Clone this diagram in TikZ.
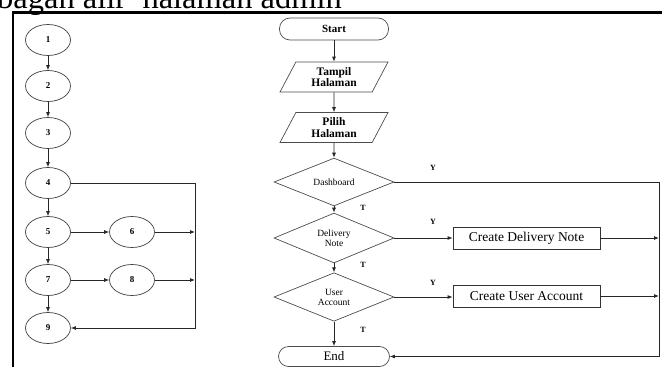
\documentclass[tikz,border=0pt]{standalone}
\usepackage{fontspec}
\setmainfont{Liberation Serif}
\usetikzlibrary{shapes.geometric,arrows.meta}
\begin{document}
\begin{tikzpicture}[x=1pt,y=-1pt,
  line/.style={line width=0.8pt,draw=black!85},
  arr/.style={line,-{Latex[length=5pt,width=4pt]}},
  fgnode/.style={ellipse,draw=black!75,line width=0.7pt,minimum width=45pt,minimum height=31pt,inner sep=0pt,font=\fontsize{9}{10}\selectfont\bfseries},
  term/.style={rectangle,draw=black!70,line width=0.7pt,minimum width=109pt,minimum height=22pt,rounded corners=10.5pt,inner sep=0pt},
  io/.style={trapezium,trapezium left angle=51,trapezium right angle=129,trapezium stretches body,draw=black!70,line width=0.7pt,minimum width=108pt,minimum height=30pt,inner sep=0pt,align=center,font=\fontsize{11.5}{11.5}\selectfont\bfseries},
  decide/.style={diamond,draw=black!70,line width=0.7pt,minimum width=120pt,minimum height=40pt,inner sep=0pt,align=center,font=\fontsize{9.5}{10}\selectfont},
  proc/.style={rectangle,draw=black!80,line width=0.8pt,minimum width=147pt,minimum height=22pt,inner sep=0pt,font=\fontsize{13.5}{14}\selectfont},
  lbl/.style={font=\fontsize{8}{9}\selectfont\bfseries,inner sep=0pt}
]
\useasboundingbox (0,0) rectangle (662,367);

% caption line above the frame, partly cut off by the page edge
\node[anchor=base west,inner sep=0pt,font=\fontsize{32.5}{32.5}\selectfont] (cap) at (-3,8.5) {bagan alir\ \ halaman admin};

% frame
\draw[line width=2.6pt,black] (13,367) -- (13,12.5) -- (662,12.5);

% ---- flow graph ----
\node[fgnode] (n1) at (48,40) {1};
\node[fgnode] (n2) at (48,86) {2};
\node[fgnode] (n3) at (48,133) {3};
\node[fgnode] (n4) at (48,183) {4};
\node[fgnode] (n5) at (48,232) {5};
\node[fgnode] (n6) at (132,232) {6};
\node[fgnode] (n7) at (48,280) {7};
\node[fgnode] (n8) at (132,280) {8};
\node[fgnode] (n9) at (48,328) {9};
\coordinate (jtop) at (195,183);
\coordinate (j6) at (195,232);
\coordinate (j8) at (195,280);
\coordinate (jbot) at (195,328);

\draw[arr] (n1) -- (n2);
\draw[arr] (n2) -- (n3);
\draw[arr] (n3) -- (n4);
\draw[arr] (n4) -- (n5);
\draw[arr] (n5) -- (n7);
\draw[arr] (n7) -- (n9);
\draw[arr] (n5) -- (n6);
\draw[arr] (n7) -- (n8);
\draw[arr] (n6) -- (j6);
\draw[arr] (n8) -- (j8);
\draw[arr] (n4.east) -- (jtop) -- (jbot) -- (n9.east);

% ---- flowchart ----
\node[term,font=\fontsize{11}{11}\selectfont\bfseries] (start) at (334,29) {Start};
\node[io] (tampil) at (334,77) {Tampil\\Halaman};
\node[io] (pilih) at (334,127.5) {Pilih\\Halaman};
\node[decide] (dash) at (334,182) {Dashboard};
\node[decide] (deliv) at (334,238) {Delivery\\Note};
\node[decide] (user) at (334,297) {User\\Account};
\node[term,minimum width=111pt,minimum height=20pt,rounded corners=10pt,font=\fontsize{13}{13}\selectfont] (end) at (334,356.5) {End};
\node[proc] (cdn) at (526.5,238) {Create Delivery Note};
\node[proc] (cua) at (526.5,296) {Create User Account};
\coordinate (rtop) at (659,182);
\coordinate (rdn) at (659,238);
\coordinate (rua) at (659,296);
\coordinate (rbot) at (659,356.5);

\draw[arr] (start) -- (tampil);
\draw[arr] (tampil) -- (pilih);
\draw[arr] (pilih) -- (dash);
\draw[arr] (dash) -- (deliv);
\draw[arr] (deliv) -- (user);
\draw[arr] (user) -- (end);
\draw[arr] (deliv.east) -- (cdn.west);
\draw[arr] (user.east) -- (user.east -| cua.west);
\draw[arr] (cdn.east) -- (rdn);
\draw[arr] (cua.east) -- (rua);
\draw[arr] (dash.east) -- (rtop) -- (rbot) -- (end.east);

% branch labels
\node[lbl] (ty1) at (433,168) {Y};
\node[lbl] (ty2) at (433,222) {Y};
\node[lbl] (ty3) at (433,283) {Y};
\node[lbl] (tt1) at (363,208) {T};
\node[lbl] (tt2) at (363,265) {T};
\node[lbl] (tt3) at (363,330) {T};
\end{tikzpicture}
\end{document}
